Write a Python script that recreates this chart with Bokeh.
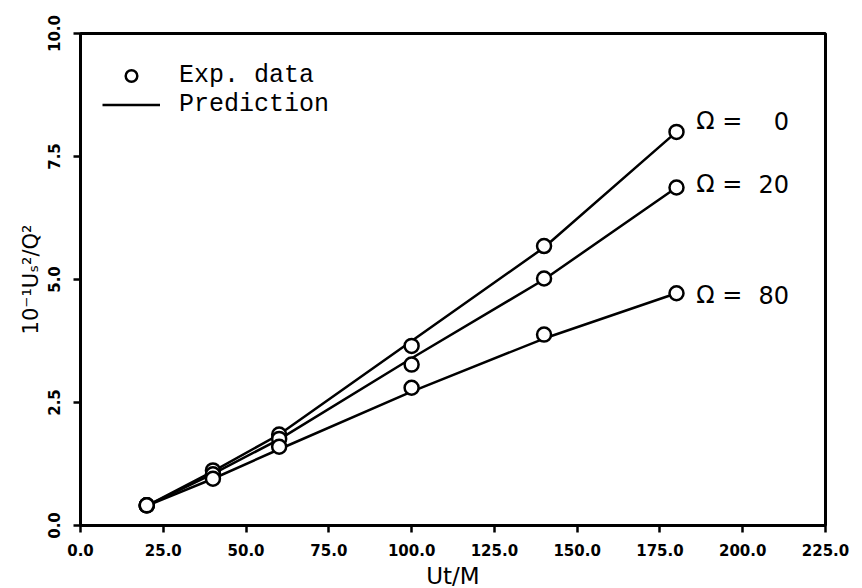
from bokeh.plotting import figure
from bokeh.models import Range1d, FixedTicker, Legend, LegendItem, ColumnDataSource, PrintfTickFormatter
from bokeh.core.properties import value
from bokeh.embed import file_html
from bokeh.resources import INLINE

# ---- data ----
ut_m = [20, 40, 60, 100, 140, 180]
exp_omega0 = [0.41, 1.12, 1.85, 3.65, 5.68, 8.0]
exp_omega20 = [0.41, 1.04, 1.76, 3.27, 5.02, 6.87]
exp_omega80 = [0.41, 0.95, 1.6, 2.8, 3.88, 4.72]
pred_omega0 = [0.4, 1.1, 1.85, 3.75, 5.65, 8.0]
pred_omega20 = [0.4, 1.05, 1.75, 3.4, 5.0, 6.87]
pred_omega80 = [0.4, 0.95, 1.55, 2.72, 3.8, 4.72]
omega_values = [0, 20, 80]
x_ticks = [0, 25, 50, 75, 100, 125, 150, 175, 200, 225]
y_ticks = [0, 2.5, 5.0, 7.5, 10.0]

p = figure(width=860, height=586, output_backend="svg", toolbar_location=None,
           x_range=Range1d(0, 225), y_range=Range1d(0, 10),
           frame_width=745, frame_height=492,
           min_border_left=80, min_border_top=33, min_border_right=35, min_border_bottom=61)
p.background_fill_color = "white"
p.border_fill_color = "white"
p.xgrid.visible = False
p.ygrid.visible = False
p.outline_line_color = "black"
p.outline_line_width = 3

for ax in (p.xaxis[0], p.yaxis[0]):
    ax.axis_line_width = 3
    ax.axis_line_color = "black"
    ax.major_tick_line_width = 2.5
    ax.major_tick_out = 7
    ax.major_tick_in = 0
    ax.minor_tick_line_color = None
    ax.major_label_text_font = "DejaVu Sans"
    ax.major_label_text_font_style = "bold"
    ax.major_label_text_font_size = "15px"
    ax.major_label_text_color = "black"
    ax.axis_label_text_font = "DejaVu Sans"
    ax.axis_label_text_font_style = "normal"
    ax.axis_label_text_color = "black"
    ax.formatter = PrintfTickFormatter(format="%.1f")

p.xaxis.ticker = FixedTicker(ticks=x_ticks)
p.yaxis.ticker = FixedTicker(ticks=y_ticks)
p.yaxis.major_label_orientation = "vertical"
p.xaxis.major_label_standoff = 11
p.yaxis.major_label_standoff = 14
p.xaxis.axis_label = "Ut/M"
p.xaxis.axis_label_text_font_size = "23px"
p.xaxis.axis_label_standoff = 4
p.yaxis.axis_label = "10⁻¹Uₛ²/Q²"
p.yaxis.axis_label_text_font_size = "21px"
p.yaxis.axis_label_standoff = 2

preds = [pred_omega0, pred_omega20, pred_omega80]
exps = [exp_omega0, exp_omega20, exp_omega80]
line_renderers = [p.line(ut_m, pr, line_color="black", line_width=2.5) for pr in preds]

# small circle used only as the legend sample (hidden under the first data circle)
leg_c = p.scatter(ut_m[:1], exp_omega0[:1], size=10, marker="circle", line_color="black",
                  line_width=2.5, fill_color="white")

for ex in exps:
    p.scatter(ut_m, ex, size=14, marker="circle", line_color="black",
              line_width=2.5, fill_color="white")

# omega labels beside the line ends
label_src = ColumnDataSource(dict(
    x=[186] * 3,
    xr=[214] * 3,
    y=[pred_omega0[-1], pred_omega20[-1], pred_omega80[-1]],
    eq=["Ω ="] * 3,
    num=[str(v) for v in omega_values],
    dy=[-11, -3, 2],
))
p.text(x="x", y="y", text="eq", y_offset="dy", source=label_src, text_font=value("DejaVu Sans"),
       text_font_size="24px", text_align="left", text_baseline="middle", text_color="black")
p.text(x="xr", y="y", text="num", y_offset="dy", source=label_src, text_font=value("DejaVu Sans"),
       text_font_size="24px", text_align="right", text_baseline="middle", text_color="black")

# legend
legend = Legend(items=[LegendItem(label="Exp. data", renderers=[leg_c]),
                       LegendItem(label="Prediction", renderers=[line_renderers[0]])],
                location=(22, 406), margin=0, padding=0, spacing=0,
                glyph_width=58, glyph_height=29, label_height=29, label_standoff=19,
                label_text_font="Liberation Mono", label_text_font_size="25px",
                label_text_color="black", border_line_color=None, background_fill_alpha=0)
p.add_layout(legend, "center")

open("out.html", "w").write(file_html(p, INLINE))
